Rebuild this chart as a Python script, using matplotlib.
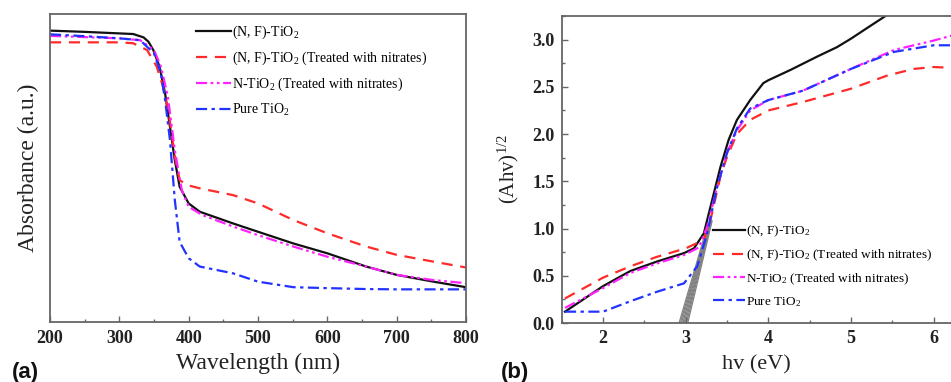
import matplotlib
matplotlib.use("Agg")
import matplotlib.pyplot as plt
from matplotlib.ticker import MultipleLocator

plt.rcParams['font.family'] = ['Liberation Serif', 'DejaVu Serif']
plt.rcParams['mathtext.fontset'] = 'custom'
plt.rcParams['mathtext.rm'] = 'Liberation Serif'
plt.rcParams['mathtext.it'] = 'Liberation Serif:italic'

# ---------------- Panel (a) data: wavelength (nm) vs absorbance (a.u., normalized) ----
nf_wl = [200, 250, 300, 320, 335, 342, 349, 358, 366, 373, 380, 387, 400, 416, 464, 500, 551, 600, 656, 700, 753, 800]
nf_abs = [0.946, 0.942, 0.937, 0.935, 0.924, 0.91, 0.883, 0.829, 0.742, 0.634, 0.526, 0.439, 0.385, 0.358, 0.320, 0.293, 0.255, 0.223, 0.180, 0.153, 0.131, 0.113]

nfn_wl = [200, 250, 300, 320, 340, 354, 363, 372, 380, 387, 397, 416, 464, 500, 551, 600, 656, 700, 753, 800]
nfn_abs = [0.908, 0.908, 0.908, 0.905, 0.883, 0.829, 0.764, 0.667, 0.537, 0.461, 0.445, 0.434, 0.412, 0.385, 0.331, 0.288, 0.245, 0.218, 0.196, 0.177]

nn_wl = [200, 250, 300, 330, 350, 360, 370, 380, 390, 400, 420, 464, 500, 551, 600, 656, 700, 753, 800]
nn_abs = [0.929, 0.925, 0.921, 0.915, 0.883, 0.829, 0.732, 0.558, 0.429, 0.374, 0.347, 0.310, 0.282, 0.245, 0.212, 0.180, 0.153, 0.136, 0.126]

pure_wl = [200, 250, 300, 330, 350, 360, 366, 373, 380, 387, 400, 416, 464, 500, 551, 600, 656, 700, 800]
pure_abs = [0.934, 0.928, 0.921, 0.915, 0.872, 0.807, 0.721, 0.591, 0.396, 0.26, 0.207, 0.180, 0.158, 0.131, 0.113, 0.110, 0.107, 0.106, 0.106]

# ---------------- Panel (b) data: hv (eV) vs (Ahv)^1/2 ----
nf_ev = [1.54, 2.0, 2.33, 2.65, 2.98, 3.10, 3.22, 3.30, 3.42, 3.52, 3.62, 3.78, 3.94, 4.0, 4.27, 4.59, 4.83, 5.0, 5.19, 5.40, 5.5]
nf_t = [0.12, 0.39, 0.55, 0.65, 0.74, 0.79, 0.95, 1.23, 1.65, 1.94, 2.15, 2.36, 2.54, 2.57, 2.68, 2.82, 2.92, 3.01, 3.12, 3.24, 3.30]

nfn_ev = [1.54, 2.0, 2.33, 2.65, 3.0, 3.22, 3.30, 3.42, 3.50, 3.62, 3.78, 4.0, 4.42, 5.0, 5.44, 5.76, 6.0, 6.25]
nfn_t = [0.26, 0.48, 0.60, 0.70, 0.79, 0.88, 1.09, 1.55, 1.76, 2.0, 2.15, 2.25, 2.34, 2.48, 2.62, 2.69, 2.71, 2.70]

nn_ev = [1.54, 2.0, 2.33, 2.65, 2.98, 3.16, 3.26, 3.38, 3.50, 3.62, 3.78, 4.0, 4.42, 5.0, 5.52, 6.0, 6.25]
nn_t = [0.16, 0.37, 0.53, 0.63, 0.72, 0.80, 1.02, 1.44, 1.80, 2.04, 2.25, 2.36, 2.46, 2.69, 2.89, 2.99, 3.05]

pure_ev = [1.54, 1.8, 2.0, 2.33, 2.65, 2.98, 3.14, 3.26, 3.38, 3.50, 3.62, 3.78, 4.0, 4.42, 5.0, 5.52, 6.0, 6.25]
pure_t = [0.12, 0.12, 0.12, 0.23, 0.33, 0.42, 0.60, 0.95, 1.44, 1.80, 2.06, 2.27, 2.36, 2.46, 2.69, 2.87, 2.94, 2.94]

# tangent (band-gap extrapolation) lines: start at y=0, end near the knee
tan_x0 = [2.92, 2.935, 2.95, 2.965, 2.98, 2.995, 3.01, 3.025]
tan_x1 = [3.27, 3.28, 3.285, 3.29, 3.30, 3.305, 3.31, 3.32]
tan_y1 = [1.05, 1.05, 1.06, 1.06, 1.07, 1.07, 1.08, 1.08]

labels = ['(N, F)-TiO$_2$', '(N, F)-TiO$_2$ (Treated with nitrates)',
          'N-TiO$_2$ (Treated with nitrates)', 'Pure TiO$_2$']
colors = ['#111111', '#ff2a2a', '#ff22ff', '#2233ff']
styles = ['-', (0, (5, 3.5)), (0, (5, 1.6, 1.2, 1.6, 1.2, 1.6)), (0, (5, 2, 1.5, 2))]

W, H = 951, 382
fig = plt.figure(figsize=(W / 100, H / 100), dpi=100)

spine_col = '#666666'
tick_kw = dict(direction='in', colors=spine_col, labelcolor='#222222', labelsize=13)

# ---------------- Panel (a) ----------------
ax1 = fig.add_axes([50 / W, 1 - 322 / H, 416 / W, 308 / H])
for x, y, c, s, l in zip([nf_wl, nfn_wl, nn_wl, pure_wl], [nf_abs, nfn_abs, nn_abs, pure_abs],
                         colors, styles, labels):
    ax1.plot(x, y, color=c, linestyle=s, lw=1.6, label=l)
ax1.set_xlim(200, 800)
ax1.set_ylim(0, 1)
ax1.set_xticks([200, 300, 400, 500, 600, 700, 800])
ax1.xaxis.set_minor_locator(MultipleLocator(50))
ax1.set_yticks([])
ax1.tick_params(axis='x', which='major', length=4, width=1, pad=6, **tick_kw)
ax1.tick_params(axis='x', which='minor', length=2.5, width=1, direction='in', colors=spine_col)
for lab in ax1.get_xticklabels():
    lab.set_fontweight('bold')
for sp in ax1.spines.values():
    sp.set_color(spine_col)
    sp.set_linewidth(1.3)
ax1.set_xlabel('Wavelength (nm)', fontsize=17, labelpad=4, color='#222222')
ax1.set_ylabel('Absorbance (a.u.)', fontsize=17, labelpad=8, color='#222222')
ax1.legend(loc='upper left', bbox_to_anchor=(196 / W, 1 - 24 / H), bbox_transform=fig.transFigure,
           frameon=False, fontsize=10, handlelength=2.5, handletextpad=0.1,
           labelspacing=0.62, borderpad=0, borderaxespad=0)

# ---------------- Panel (b) ----------------
ax2 = fig.add_axes([561.7 / W, 1 - 323 / H, (951 - 561.7) / W, 307 / H])
for a, b, c2 in zip(tan_x0, tan_x1, tan_y1):
    ax2.plot([a, b], [0, c2], color='#808080', lw=0.9, zorder=1)
for x, y, c, s, l in zip([nf_ev, nfn_ev, nn_ev, pure_ev], [nf_t, nfn_t, nn_t, pure_t],
                         colors, styles, labels):
    ax2.plot(x, y, color=c, linestyle=s, lw=1.6, label=l, zorder=2)
ax2.set_xlim(1.5, 6.21)
ax2.set_ylim(0, 3.25)
ax2.set_xticks([2, 3, 4, 5, 6])
ax2.set_yticks([0.0, 0.5, 1.0, 1.5, 2.0, 2.5, 3.0])
ax2.set_yticklabels(['0.0', '0.5', '1.0', '1.5', '2.0', '2.5', '3.0'])
ax2.xaxis.set_minor_locator(MultipleLocator(0.5))
ax2.yaxis.set_minor_locator(MultipleLocator(0.25))
ax2.tick_params(axis='both', which='major', length=4, width=1, pad=5, **tick_kw)
ax2.tick_params(axis='both', which='minor', length=2.5, width=1, direction='in', colors=spine_col)
for lab in ax2.get_xticklabels() + ax2.get_yticklabels():
    lab.set_fontweight('bold')
for sp in ax2.spines.values():
    sp.set_color(spine_col)
    sp.set_linewidth(1.3)
ax2.spines['right'].set_visible(False)
ax2.set_xlabel('hv (eV)', fontsize=16, labelpad=6, color='#222222')
ax2.set_ylabel('(Ahv)$^{1/2}$', fontsize=15, labelpad=8, color='#222222')
ax2.legend(loc='upper left', bbox_to_anchor=(713 / W, 1 - 224 / H), bbox_transform=fig.transFigure,
           frameon=False, fontsize=9.5, handlelength=2.4, handletextpad=0.1,
           labelspacing=0.62, borderpad=0, borderaxespad=0)

fig.text(12 / W, 4 / H, '(a)', fontsize=16, fontweight='bold', family='Liberation Sans', color='#111111')
fig.text(501 / W, 4 / H, '(b)', fontsize=16, fontweight='bold', family='Liberation Sans', color='#111111')

fig.savefig('out.png', dpi=100)
